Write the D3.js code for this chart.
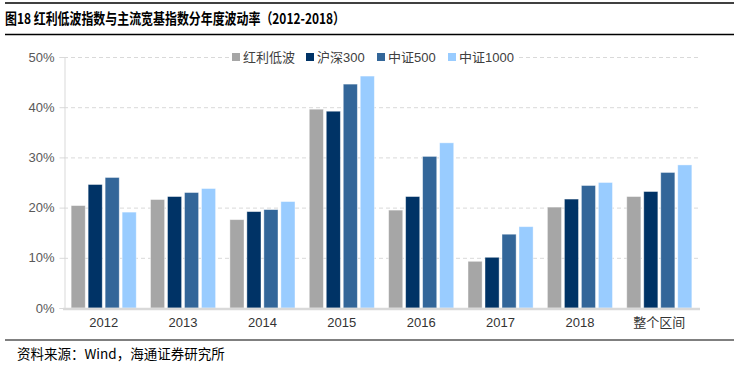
<!DOCTYPE html>
<html>
<head>
<meta charset="utf-8">
<script src="https://cdn.jsdelivr.net/npm/d3@7"></script>
<style>
body { margin: 0; background: #fff; }
svg { display: block; font-family: "Liberation Sans", Arial, sans-serif; }
</style>
</head>
<body>
<svg width="738" height="368"></svg>
<script>
var width = 738;
var height = 368;

// data
var categories = ["2012", "2013", "2014", "2015", "2016", "2017", "2018", "整个区间"];
var seriesNames = ["红利低波", "沪深300", "中证500", "中证1000"];
var seriesColors = ["#A6A6A6", "#003366", "#336699", "#99CCFF"];
var hongli = [20.4, 21.6, 17.6, 39.6, 19.5, 9.3, 20.1, 22.2];
var hs300 = [24.6, 22.2, 19.2, 39.2, 22.2, 10.1, 21.7, 23.2];
var zz500 = [26.0, 23.0, 19.6, 44.6, 30.2, 14.7, 24.4, 27.0];
var zz1000 = [19.1, 23.8, 21.2, 46.2, 32.9, 16.2, 25.0, 28.5];
var yTicks = [0, 10, 20, 30, 40, 50];

var series = [hongli, hs300, zz500, zz1000];

var svg = d3.select("svg");

// title and rules
svg.append("line").attr("x1", 5).attr("x2", 734).attr("y1", 3).attr("y2", 3)
    .attr("stroke", "#000").attr("stroke-width", 1.5);
svg.append("line").attr("x1", 5).attr("x2", 734).attr("y1", 34.5).attr("y2", 34.5)
    .attr("stroke", "#000").attr("stroke-width", 1.5);
svg.append("text")
    .attr("x", 5).attr("y", 24)
    .attr("textLength", 340).attr("lengthAdjust", "spacingAndGlyphs")
    .style("font-family", "'Noto Sans CJK SC', sans-serif")
    .style("font-weight", "bold").style("font-size", "15px").attr("fill", "#000")
    .text("图18 红利低波指数与主流宽基指数分年度波动率（2012-2018）");

svg.append("line").attr("x1", 5).attr("x2", 734).attr("y1", 340).attr("y2", 340)
    .attr("stroke", "#000").attr("stroke-width", 1);
svg.append("text")
    .attr("x", 17).attr("y", 359)
    .style("font-family", "'Noto Sans CJK SC', sans-serif")
    .style("font-size", "13.5px").attr("fill", "#000")
    .text("资料来源：Wind，海通证券研究所");

// scales
var x0 = d3.scaleBand().domain(categories).range([64, 699]).paddingInner(0.18).paddingOuter(0.09);
var x1 = d3.scaleBand().domain(d3.range(4)).range([0, x0.bandwidth()]).paddingInner(0.17).paddingOuter(0);
var y = d3.scaleLinear().domain([0, 50]).range([308, 57]);

// gridlines
svg.append("g").selectAll("line")
    .data(yTicks.filter(function(d) { return d > 0; }))
    .enter().append("line")
    .attr("x1", 64).attr("x2", 700)
    .attr("y1", function(d) { return y(d) + 0.5; })
    .attr("y2", function(d) { return y(d) + 0.5; })
    .attr("stroke", "#D9D9D9").attr("stroke-dasharray", "4,3");

// y axis
var yAxis = svg.append("g")
    .attr("transform", "translate(64.5,0)")
    .call(d3.axisLeft(y).tickValues(yTicks).tickSize(5).tickFormat(function(d) { return d + "%"; }));
yAxis.select(".domain").attr("stroke", "#D9D9D9");
yAxis.selectAll(".tick line").attr("stroke", "#D9D9D9");
yAxis.selectAll("text").attr("fill", "#595959").style("font-size", "13px").attr("x", -10);

// bars
svg.append("g").selectAll("g")
    .data(categories)
    .enter().append("g")
    .attr("transform", function(d) { return "translate(" + x0(d) + ",0)"; })
    .selectAll("rect")
    .data(function(d, i) { return series.map(function(s, k) { return { k: k, v: s[i] }; }); })
    .enter().append("rect")
    .attr("x", function(d) { return x1(d.k); })
    .attr("width", x1.bandwidth())
    .attr("y", function(d) { return y(d.v); })
    .attr("height", function(d) { return y(0) - y(d.v); })
    .attr("fill", function(d) { return seriesColors[d.k]; })
    .attr("stroke", "#fff").attr("stroke-opacity", 0.5).attr("stroke-width", 0.8);

// x axis
var xAxis = svg.append("g")
    .attr("transform", "translate(0,309)")
    .call(d3.axisBottom(x0).tickSize(0).tickPadding(9));
xAxis.select(".domain").attr("stroke", "#D9D9D9").attr("stroke-width", 2.5).attr("d", "M63,0H700");
xAxis.selectAll("text").attr("fill", "#333").style("font-size", "13px")
    .style("font-family", "'Liberation Sans', 'Noto Sans CJK SC', sans-serif");

// legend
var legendX = [232, 306, 377, 448];
var legend = svg.append("g");
legend.append("rect").attr("x", 229).attr("y", 49).attr("width", 290).attr("height", 16).attr("fill", "#fff");
var li = legend.selectAll("g").data(seriesNames).enter().append("g")
    .attr("transform", function(d, i) { return "translate(" + legendX[i] + ",57)"; });
li.append("rect").attr("x", 0).attr("y", -4).attr("width", 8).attr("height", 8)
    .attr("fill", function(d, i) { return seriesColors[i]; });
li.append("text").attr("x", 11).attr("y", 5)
    .style("font-family", "'Liberation Sans', 'Noto Sans CJK SC', sans-serif")
    .style("font-size", "13px").attr("fill", "#404040")
    .text(function(d) { return d; });
</script>
</body>
</html>
